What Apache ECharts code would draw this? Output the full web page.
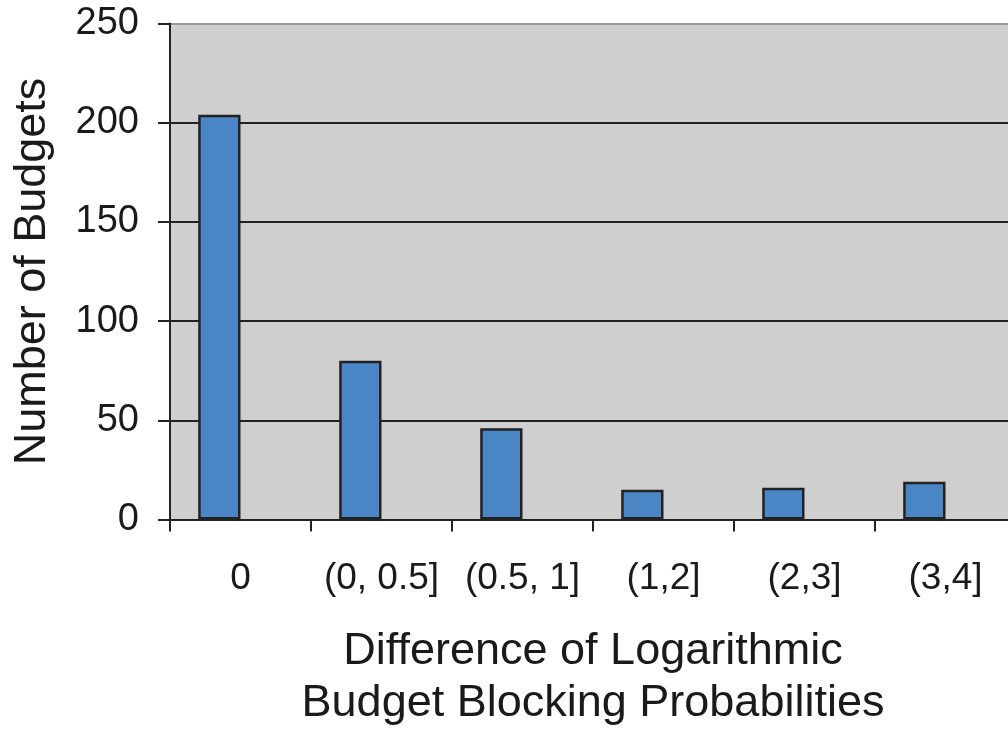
<!DOCTYPE html>
<html>
<head>
<meta charset="utf-8">
<script src="https://cdn.jsdelivr.net/npm/echarts@6/dist/echarts.min.js"></script>
<style>
html,body{margin:0;padding:0;background:#fff;}
#c{width:1008px;height:729px;}
</style>
</head>
<body>
<div id="c"></div>
<script>
const categories = ['0', '(0, 0.5]', '(0.5, 1]', '(1,2]', '(2,3]', '(3,4]'];
const budgetCounts = [204, 80, 46, 15, 16, 19];
const emptySeries = [null, null, null, null, null, null];
const yTicks = {min: 0, max: 250, interval: 50};
const xTitle = 'Difference of Logarithmic\nBudget Blocking Probabilities';
const yTitle = 'Number of Budgets';

const FONT = '"Liberation Sans", Arial, Helvetica, sans-serif';
const INK = '#1a1a1a';

const chart = echarts.init(document.getElementById('c'), null, {renderer: 'canvas'});
chart.setOption({
  animation: false,
  backgroundColor: '#ffffff',
  grid: {
    left: 170, top: 23.5, right: -8, bottom: 209.5,
    containLabel: false,
    outerBoundsMode: 'none',
    show: true, backgroundColor: '#cfcfcf', borderWidth: 0
  },
  xAxis: {
    type: 'category',
    data: categories,
    name: xTitle,
    nameLocation: 'middle',
    nameGap: 106,
    nameTextStyle: {fontFamily: FONT, fontSize: 45, color: INK, lineHeight: 52},
    axisLine: {show: true, lineStyle: {color: '#222', width: 2}},
    axisTick: {show: true, length: 12, lineStyle: {color: '#222', width: 2}},
    axisLabel: {fontFamily: FONT, fontSize: 37, color: INK, margin: 41, interval: 0},
    splitLine: {show: false}
  },
  yAxis: {
    type: 'value',
    min: yTicks.min, max: yTicks.max, interval: yTicks.interval,
    name: yTitle,
    nameLocation: 'middle',
    nameGap: 115,
    nameRotate: 90,
    nameTextStyle: {fontFamily: FONT, fontSize: 45, color: INK},
    axisLine: {show: true, lineStyle: {color: '#222', width: 2}},
    axisTick: {show: true, length: 12, lineStyle: {color: '#222', width: 2}},
    axisLabel: {fontFamily: FONT, fontSize: 38, color: INK, margin: 31},
    splitLine: {show: true, lineStyle: {color: ['#222', '#222', '#222', '#222', '#222', '#999'], width: 2}}
  },
  series: [
    {
      type: 'bar',
      data: budgetCounts,
      barGap: '0%',
      barCategoryGap: '40%',
      itemStyle: {color: '#4a86c6', borderColor: '#222', borderWidth: 2.5}
    },
    {
      type: 'bar',
      data: emptySeries,
      barGap: '0%',
      barCategoryGap: '40%',
      itemStyle: {color: '#4a86c6', borderColor: '#222', borderWidth: 2.5}
    }
  ]
});
</script>
</body>
</html>
